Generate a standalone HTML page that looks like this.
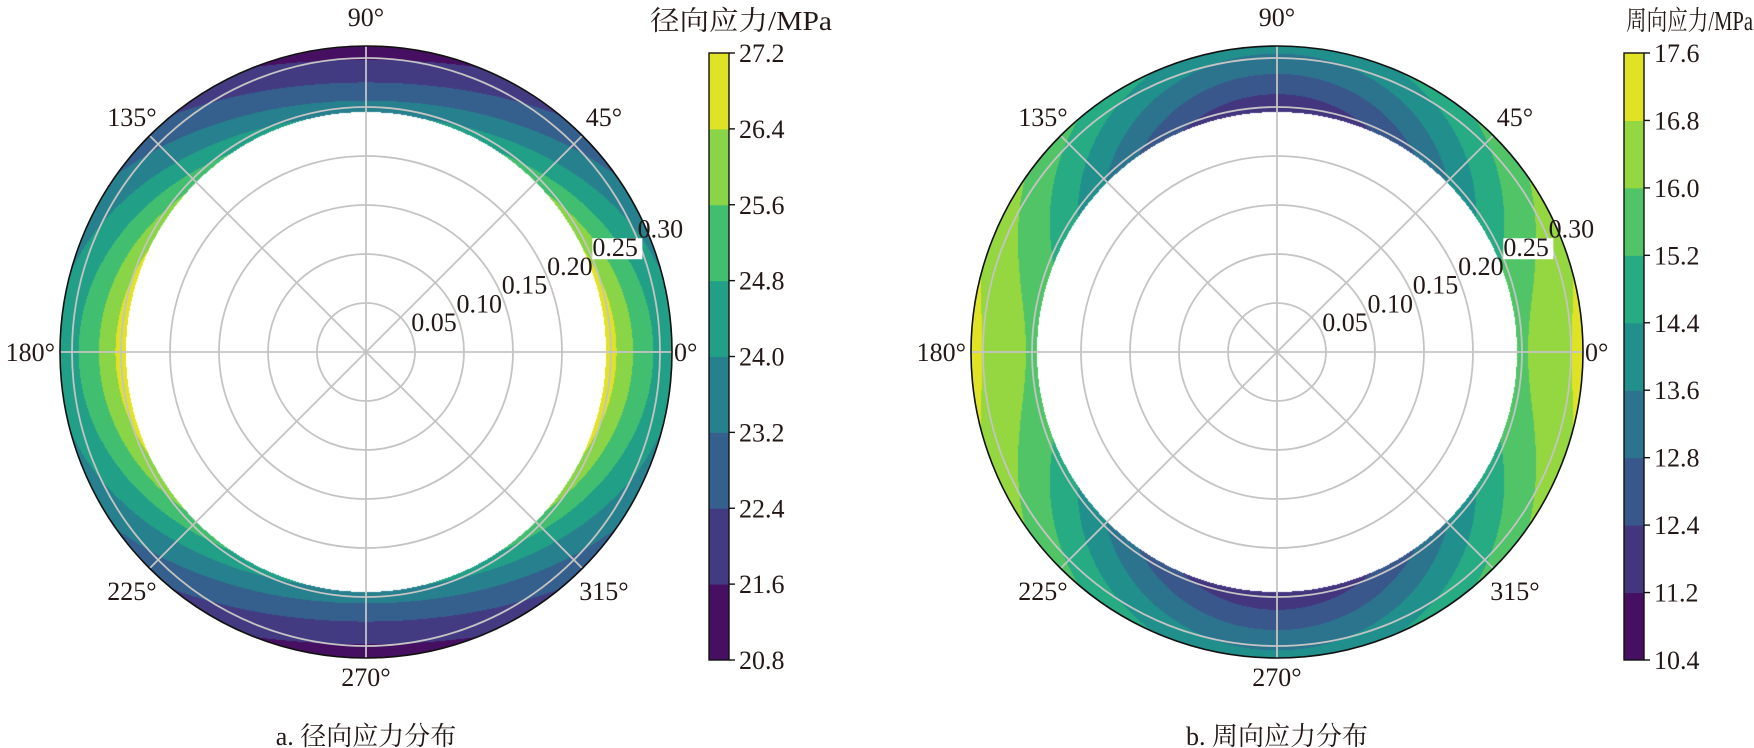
<!DOCTYPE html>
<html><head><meta charset="utf-8">
<style>
html,body{margin:0;padding:0;background:#fff;}
#wrap{position:relative;width:1754px;height:748px;overflow:hidden;}
canvas,svg{position:absolute;left:0;top:0;}
text{font-family:"Liberation Serif","Noto Serif CJK SC","Noto Sans CJK SC",serif;fill:#231815;}
</style></head><body>
<div id="wrap">
<canvas id="c" width="1754" height="748"></canvas>
<svg width="1754" height="748" viewBox="0 0 1754 748" xmlns="http://www.w3.org/2000/svg">
<g id="g1"></g>
<g font-size="26">
<text x="366" y="26" text-anchor="middle">90°</text>
<text x="604" y="126" text-anchor="middle">45°</text>
<text x="132" y="126" text-anchor="middle">135°</text>
<text x="674" y="361">0°</text>
<text x="55" y="361" text-anchor="end">180°</text>
<text x="132" y="600" text-anchor="middle">225°</text>
<text x="604" y="600" text-anchor="middle">315°</text>
<text x="366" y="686" text-anchor="middle">270°</text>
<text x="1277" y="26" text-anchor="middle">90°</text>
<text x="1515" y="126" text-anchor="middle">45°</text>
<text x="1043" y="126" text-anchor="middle">135°</text>
<text x="1585" y="361">0°</text>
<text x="966" y="361" text-anchor="end">180°</text>
<text x="1043" y="600" text-anchor="middle">225°</text>
<text x="1515" y="600" text-anchor="middle">315°</text>
<text x="1277" y="686" text-anchor="middle">270°</text>
<text x="366" y="745" text-anchor="middle">a. 径向应力分布</text>
<text x="1277" y="745" text-anchor="middle">b. 周向应力分布</text>
<text x="650" y="30" font-size="27" textLength="182" lengthAdjust="spacingAndGlyphs">径向应力/MPa</text>
<text x="1626" y="30" font-size="27" textLength="127" lengthAdjust="spacingAndGlyphs">周向应力/MPa</text>
</g>
</svg>
</div>
<script>
var V=[[0,68,1,84],[0.1,72,36,117],[0.2,65,68,135],[0.3,53,95,141],[0.4,42,120,142],[0.5,33,145,140],[0.6,34,168,132],[0.7,68,191,112],[0.8,122,209,81],[0.9,189,223,38],[1,253,231,37]];
function vir(t){for(var i=0;i<V.length-1;i++){if(t<=V[i+1][0]){var f=(t-V[i][0])/(V[i+1][0]-V[i][0]);return [0,1,2].map(function(k){return Math.round(V[i][k+1]+f*(V[i+1][k+1]-V[i][k+1]));});}}return [253,231,37];}
function lev(k,n){return vir(0.04+0.915*k/(n-1));}
var cv=document.getElementById('c'),ctx=cv.getContext('2d');
var img=ctx.createImageData(1754,748),d=img.data;
for(var i=0;i<d.length;i+=4){d[i]=d[i+1]=d[i+2]=d[i+3]=255;}
var P=49/0.05;
var a=240/P,R=306/P;
function panel(cx,cy,inA,inB,outA,outB,lo,step,n,lin){
 for(var y=cy-310;y<=cy+310;y++)for(var x=cx-310;x<=cx+310;x++){
  var dx=x+0.5-cx,dy=cy-(y+0.5),rp=Math.sqrt(dx*dx+dy*dy);
  if(rp<240||rp>306)continue;
  var r=rp/P,th=Math.atan2(dy,dx);
  var s=(1/(r*r)-1/(R*R))/(1/(a*a)-1/(R*R));
  var sl=(306-rp)/66;
  s=s*(1-lin)+sl*lin;
  var A=outA+(inA-outA)*s,B=outB+(inB-outB)*s;
  var f=A+B*Math.cos(2*th);
  var k=Math.floor((f-lo)/step);if(k<0)k=0;if(k>n-1)k=n-1;
  var c=lev(k,n);var o=(y*1754+x)*4;d[o]=c[0];d[o+1]=c[1];d[o+2]=c[2];
 }
}
panel(366,352,25.4,1.6,22.7,1.5,20.8,0.8,8,0);
panel(1277,352,13.55,2.25,15.45,1.55,10.4,0.8,9,1);
ctx.putImageData(img,0,0);
var NS='http://www.w3.org/2000/svg',g=document.getElementById('g1');
function el(t,at,txt){var e=document.createElementNS(NS,t);for(var k in at)e.setAttribute(k,at[k]);if(txt!==undefined)e.textContent=txt;g.appendChild(e);return e;}
function polar(cx,cy){
 for(var i=1;i<=6;i++)el('circle',{cx:cx,cy:cy,r:i*49,fill:'none',stroke:'#c4c4c4','stroke-width':1.8});
 for(var j=0;j<8;j++){var t=j*Math.PI/4;el('line',{x1:cx,y1:cy,x2:cx+306*Math.cos(t),y2:cy-306*Math.sin(t),stroke:'#c4c4c4','stroke-width':1.8});}
 el('circle',{cx:cx,cy:cy,r:306,fill:'none',stroke:'#111','stroke-width':1.6});
 var labs=['0.05','0.10','0.15','0.20','0.25','0.30'];
 var c=Math.cos(Math.PI/8),s=Math.sin(Math.PI/8);
 for(var i=0;i<6;i++){var x=cx+(i+1)*49*c,y=cy-(i+1)*49*s;
  if(i==4)el('rect',{x:x,y:y-20,width:50,height:21,fill:'#fff'});
  el('text',{x:x,y:y-2,'font-size':26},labs[i]);}
}
polar(366,352);polar(1277,352);
function cbar(x,y0,y1,labels,n){
 var h=(y1-y0)/n;
 for(var i=0;i<n;i++){var c=lev(i,n);el('rect',{x:x,y:y1-(i+1)*h,width:20,height:h+0.5,fill:'rgb('+c+')'});}
 el('rect',{x:x,y:y0,width:20,height:y1-y0,fill:'none',stroke:'#111','stroke-width':1.4});
 for(var i=0;i<labels.length;i++){var yy=y1-i*h;el('line',{x1:x+20,y1:yy,x2:x+26,y2:yy,stroke:'#111','stroke-width':1.4});
  el('text',{x:x+30,y:yy+9,'font-size':26},labels[i]);}
}
cbar(709,53,660,['20.8','21.6','22.4','23.2','24.0','24.8','25.6','26.4','27.2'],8);
cbar(1624,53,660,['10.4','11.2','12.4','12.8','13.6','14.4','15.2','16.0','16.8','17.6'],9);
</script>
</body></html>
